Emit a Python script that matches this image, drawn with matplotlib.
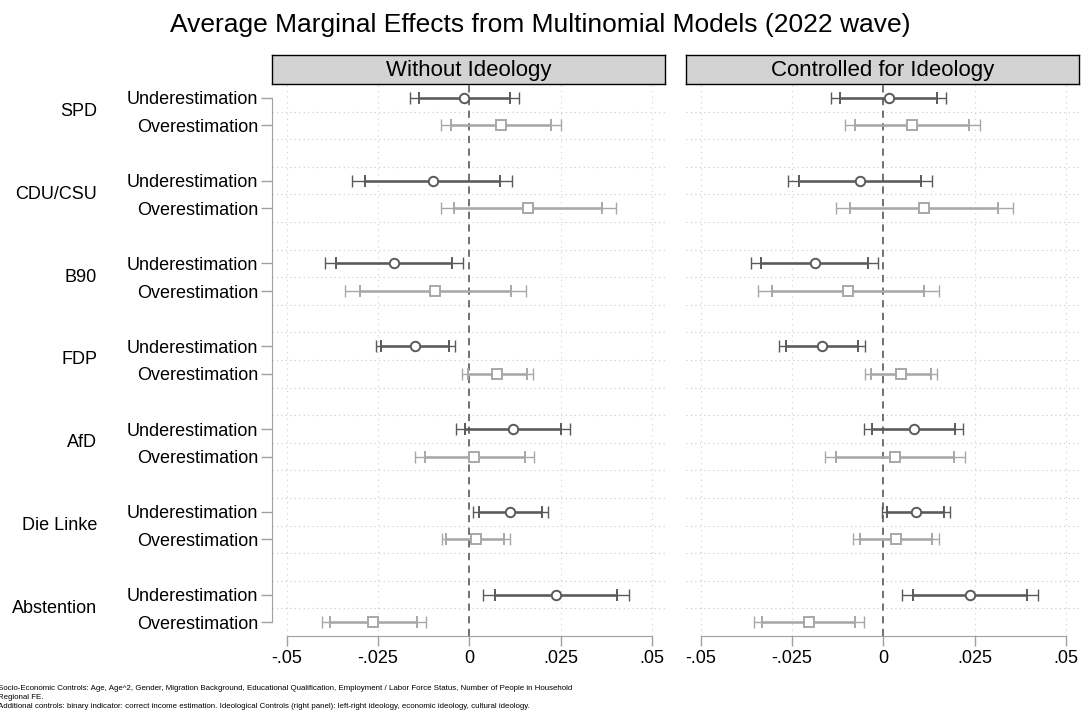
import numpy as np
import matplotlib
matplotlib.use("Agg")
import matplotlib.pyplot as plt

plt.rcParams['font.family'] = ['Liberation Sans', 'DejaVu Sans']

# Datos
partidos = ["SPD", "CDU/CSU", "B90", "FDP", "AfD", "Die Linke", "Abstention"]
categorias = ["Underestimation", "Overestimation"]
paneles = ["Without Ideology", "Controlled for Ideology"]

# Panel izquierdo: sin ideologia
sin_under_b = [-0.0015, -0.0101, -0.0206, -0.0150, 0.0119, 0.0112, 0.0236]
sin_under_lo90 = [-0.0139, -0.0285, -0.0365, -0.0243, -0.0013, 0.0026, 0.0070]
sin_under_hi90 = [0.0110, 0.0083, -0.0047, -0.0056, 0.0251, 0.0198, 0.0405]
sin_under_lo95 = [-0.0163, -0.0321, -0.0395, -0.0257, -0.0038, 0.0011, 0.0037]
sin_under_hi95 = [0.0135, 0.0118, -0.0017, -0.0040, 0.0277, 0.0214, 0.0437]

sin_over_b = [0.0086, 0.0160, -0.0094, 0.0076, 0.0013, 0.0017, -0.0263]
sin_over_lo90 = [-0.0051, -0.0042, -0.0301, -0.0004, -0.0123, -0.0063, -0.0383]
sin_over_hi90 = [0.0224, 0.0363, 0.0115, 0.0158, 0.0152, 0.0096, -0.0143]
sin_over_lo95 = [-0.0078, -0.0079, -0.0341, -0.0019, -0.0150, -0.0076, -0.0405]
sin_over_hi95 = [0.0250, 0.0402, 0.0155, 0.0174, 0.0178, 0.0110, -0.0119]

# Panel derecho: controlando ideologia
con_under_b = [0.0014, -0.0064, -0.0188, -0.0167, 0.0083, 0.0088, 0.0236]
con_under_lo90 = [-0.0118, -0.0230, -0.0335, -0.0267, -0.0031, 0.0010, 0.0082]
con_under_hi90 = [0.0146, 0.0102, -0.0042, -0.0069, 0.0197, 0.0166, 0.0393]
con_under_lo95 = [-0.0144, -0.0261, -0.0363, -0.0285, -0.0054, -0.0005, 0.0052]
con_under_hi95 = [0.0172, 0.0134, -0.0014, -0.0050, 0.0219, 0.0182, 0.0423]

con_over_b = [0.0079, 0.0112, -0.0096, 0.0047, 0.0031, 0.0035, -0.0205]
con_over_lo90 = [-0.0077, -0.0091, -0.0306, -0.0034, -0.0130, -0.0063, -0.0332]
con_over_hi90 = [0.0234, 0.0315, 0.0112, 0.0130, 0.0193, 0.0133, -0.0078]
con_over_lo95 = [-0.0105, -0.0131, -0.0345, -0.0051, -0.0161, -0.0084, -0.0355]
con_over_hi95 = [0.0265, 0.0355, 0.0151, 0.0147, 0.0224, 0.0152, -0.0054]

ticks_x = [-0.05, -0.025, 0, 0.025, 0.05]
ticks_x_labels = ["-.05", "-.025", "0", ".025", ".05"]

notas = [
    "Socio-Economic Controls: Age, Age^2, Gender, Migration Background, Educational Qualification, "
    "Employment / Labor Force Status, Number of People in Household",
    "Regional FE.",
    "Additional controls: binary indicator: correct income estimation. Ideological Controls (right panel): "
    "left-right ideology, economic ideology, cultural ideology.",
]

oscuro = "#5a5a5a"
claro = "#a8a8a8"
gris_eje = "#a0a0a0"

# Posiciones verticales: dos filas por partido y un hueco
y_under = np.arange(len(partidos)) * 3
y_over = y_under + 1

datos = [
    [(sin_under_b, sin_under_lo90, sin_under_hi90, sin_under_lo95, sin_under_hi95),
     (sin_over_b, sin_over_lo90, sin_over_hi90, sin_over_lo95, sin_over_hi95)],
    [(con_under_b, con_under_lo90, con_under_hi90, con_under_lo95, con_under_hi95),
     (con_over_b, con_over_lo90, con_over_hi90, con_over_lo95, con_over_hi95)],
]
estilos = [(y_under, oscuro, "o", 6.8), (y_over, claro, "s", 6.8)]

W, H = 1085, 723
fig = plt.figure(figsize=(W / 100, H / 100), dpi=100)

izq = [272, 686]
ancho = 393
arriba, abajo = 84, 636

for k, panel in enumerate(paneles):
    ax = fig.add_axes([izq[k] / W, 1 - abajo / H, ancho / W, (abajo - arriba) / H])
    for (b, lo90, hi90, lo95, hi95), (ys, col, mk, ms) in zip(datos[k], estilos):
        b = np.array(b)
        ax.errorbar(b, ys, xerr=[b - np.array(lo95), np.array(hi95) - b], fmt="none",
                    ecolor=col, elinewidth=1.0, capsize=4.2, capthick=1.0, zorder=3)
        ax.errorbar(b, ys, xerr=[b - np.array(lo90), np.array(hi90) - b], fmt="none",
                    ecolor=col, elinewidth=1.8, capsize=4.2, capthick=1.4, zorder=3)
        ax.plot(b, ys, linestyle="none", marker=mk, markersize=ms, markerfacecolor="white",
                markeredgecolor=col, markeredgewidth=1.4, zorder=4)

    ax.axvline(0, color="#666666", linestyle=(0, (4, 3)), linewidth=1.3, zorder=2)

    ax.set_xlim(-0.0541, 0.0536)
    ax.set_ylim(19.5, -0.5)
    ax.set_xticks(ticks_x)
    ax.set_xticklabels(ticks_x_labels, fontsize=13)
    ax.tick_params(axis="x", direction="out", length=7, width=1, color=gris_eje, pad=3)

    # rejilla punteada
    ax.set_yticks(np.arange(0.5, 19, 1), minor=True)
    ax.grid(which="minor", axis="y", color="#c8c8c8", linestyle=(0, (1, 3)), linewidth=0.8)
    for xv in [-0.05, -0.025, 0.025, 0.05]:
        ax.axvline(xv, color="#cfcfcf", linestyle=(0, (1, 4)), linewidth=0.8, zorder=1)
    ax.tick_params(axis="y", which="minor", length=0)

    for s in ["top", "right"]:
        ax.spines[s].set_visible(False)
    ax.spines["bottom"].set_color(gris_eje)
    ax.spines["bottom"].set_bounds(-0.05, 0.05)

    if k == 0:
        ax.set_yticks(list(y_under) + list(y_over))
        ax.set_yticklabels([categorias[0]] * len(partidos) + [categorias[1]] * len(partidos), fontsize=13)
        ax.tick_params(axis="y", which="major", direction="out", length=8, width=1, color=gris_eje, pad=2)
        ax.spines["left"].set_color(gris_eje)
        ax.spines["left"].set_bounds(0, 19)
        for i, p in enumerate(partidos):
            ax.text(-0.445, y_under[i] + 0.5, p, transform=ax.get_yaxis_transform(),
                    ha="right", va="center", fontsize=13)
    else:
        ax.set_yticks([])
        ax.spines["left"].set_visible(False)

    # cabecera gris
    cab = fig.add_axes([izq[k] / W, 1 - arriba / H, ancho / W, 29 / H])
    cab.set_facecolor("#d3d3d3")
    cab.set_xticks([])
    cab.set_yticks([])
    for s in cab.spines.values():
        s.set_color("black")
        s.set_linewidth(1)
    cab.text(0.5, 0.45, panel, ha="center", va="center", fontsize=16)

fig.text(540 / W, 1 - 25 / H, "Average Marginal Effects from Multinomial Models (2022 wave)",
         ha="center", va="center", fontsize=19)

for i, n in enumerate(notas):
    fig.text(-2 / W, 1 - (689 + i * 8.5) / H, n, ha="left", va="center", fontsize=5.7)

plt.savefig("out.png", dpi=100)
plt.close()
